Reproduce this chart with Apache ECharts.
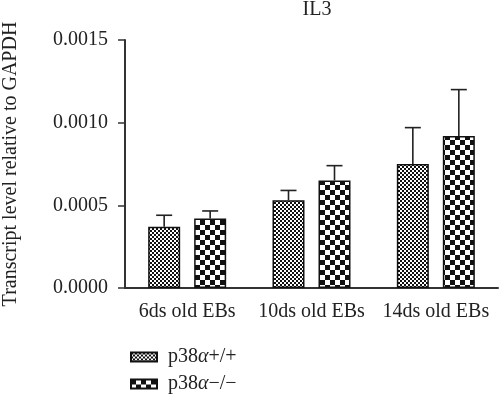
<!DOCTYPE html>
<html>
<head>
<meta charset="utf-8">
<script src="https://cdn.jsdelivr.net/npm/echarts@6/dist/echarts.min.js"></script>
<style>html,body{margin:0;padding:0;background:#fff}#c{width:500px;height:395px}</style>
</head>
<body>
<div id="c"></div>
<script>
// ---- data ----
var categories = ['6ds old EBs', '10ds old EBs', '14ds old EBs'];
var seriesNames = ['p38α+/+', 'p38α−/−'];
var wtMean = [0.00037, 0.00053, 0.00075];
var wtErr = [0.00007, 0.00006, 0.00022];
var koMean = [0.00042, 0.00065, 0.00092];
var koErr = [0.000046, 0.00009, 0.00028];
var yTicks = [0, 0.0005, 0.0010, 0.0015];

// ---- styling helpers ----
var FONT = '"Liberation Serif", "DejaVu Serif", serif';
var FS = 20;
function checker(size) {
  var c = document.createElement('canvas');
  c.width = size * 2; c.height = size * 2;
  var g = c.getContext('2d');
  g.fillStyle = '#fff'; g.fillRect(0, 0, size * 2, size * 2);
  g.fillStyle = '#111';
  g.fillRect(0, 0, size, size);
  g.fillRect(size, size, size, size);
  return {image: c, repeat: 'repeat'};
}
var fine = checker(2);
var coarse = checker(5);
var BAR_W = 32, GAP = 14;
var OFF = (BAR_W + GAP) / 2;

function errSeries(means, errs, dir) {
  return {
    type: 'custom',
    z: 5,
    silent: true,
    data: means.map(function (m, i) { return [i, m, m + errs[i]]; }),
    renderItem: function (params, api) {
      var lo = api.coord([api.value(0), api.value(1)]);
      var hi = api.coord([api.value(0), api.value(2)]);
      var x = lo[0] + dir * OFF;
      var capW = 8;
      var st = {stroke: '#222', lineWidth: 1.6};
      return {
        type: 'group',
        children: [
          {type: 'line', shape: {x1: x, y1: lo[1], x2: x, y2: hi[1]}, style: st},
          {type: 'line', shape: {x1: x - capW, y1: hi[1], x2: x + capW, y2: hi[1]}, style: st}
        ]
      };
    }
  };
}

var chart = echarts.init(document.getElementById('c'), null, {renderer: 'canvas'});
chart.setOption({
  animation: false,
  backgroundColor: '#fff',
  title: {
    text: 'IL3', left: 312, top: -5, textAlign: 'center',
    textStyle: {fontFamily: FONT, fontSize: FS, fontWeight: 'normal', color: '#222'}
  },
  grid: {left: 125, right: 2, top: 40, bottom: 107, containLabel: false, outerBoundsMode: 'none'},
  legend: {
    orient: 'vertical', left: 125, top: 342, height: 60,
    itemWidth: 26, itemHeight: 9, itemGap: 7, icon: 'rect',
    data: seriesNames,
    formatter: function (n) { return n.replace('α', '{i|α}'); },
    textStyle: {
      fontFamily: FONT, fontSize: FS, color: '#222', padding: [0, 0, 0, 6], lineHeight: 20,
      rich: {i: {fontFamily: FONT, fontSize: FS, fontStyle: 'italic', color: '#222', lineHeight: 20}}
    }
  },
  xAxis: {
    type: 'category', data: categories,
    axisLine: {lineStyle: {color: '#333', width: 2}},
    axisTick: {alignWithLabel: true, length: 7, lineStyle: {color: '#333', width: 1.5}},
    axisLabel: {fontFamily: FONT, fontSize: FS, color: '#222', margin: 14, interval: 0}
  },
  yAxis: {
    type: 'value', min: yTicks[0], max: yTicks[yTicks.length - 1], interval: yTicks[1] - yTicks[0],
    name: 'Transcript level relative to GAPDH', nameLocation: 'middle', nameGap: 104,
    nameTextStyle: {fontFamily: FONT, fontSize: FS, color: '#222'},
    axisLine: {show: true, lineStyle: {color: '#333', width: 2}},
    axisTick: {show: true, length: 7, lineStyle: {color: '#333', width: 1.5}},
    splitLine: {show: false},
    axisLabel: {fontFamily: FONT, fontSize: FS, color: '#222', margin: 17,
      formatter: function (v) { return v.toFixed(4); }}
  },
  series: [
    {name: seriesNames[0], type: 'bar', data: wtMean, barWidth: BAR_W, barGap: (GAP / BAR_W * 100) + '%',
      itemStyle: {color: fine, borderColor: '#111', borderWidth: 1.5}},
    {name: seriesNames[1], type: 'bar', data: koMean, barWidth: BAR_W,
      itemStyle: {color: coarse, borderColor: '#111', borderWidth: 1.5}},
    errSeries(wtMean, wtErr, -1),
    errSeries(koMean, koErr, 1)
  ]
});
</script>
</body>
</html>
